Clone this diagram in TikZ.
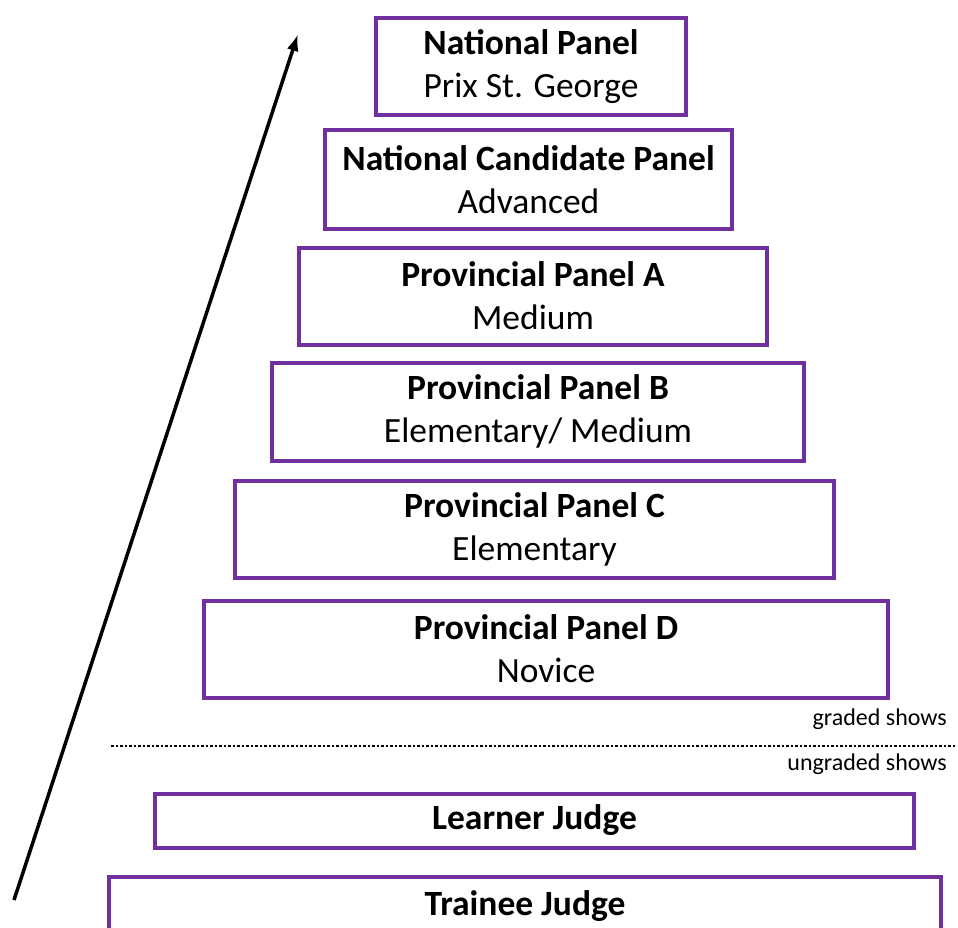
\documentclass[tikz,border=0pt]{standalone}
\usepackage{fontspec}
\setmainfont{Carlito}
\usetikzlibrary{arrows.meta}
\definecolor{panelpurple}{HTML}{7030A0}
\tikzset{panel/.style={draw=panelpurple, line width=4pt, align=center,
        inner sep=0pt, font=\fontsize{35.5}{43}\selectfont},
    showlabel/.style={anchor=east, inner sep=0pt, font=\fontsize{24}{28}\selectfont}
}

\begin{document}
\begin{tikzpicture}[x=1pt,y=-1pt]
      \useasboundingbox (0,0) rectangle (958,928);
      \node[panel, minimum width=310pt, minimum height=97pt] (NP) at (531,67) {\textbf{National Panel}\\Prix St. George};
      \node[panel, minimum width=407pt, minimum height=98pt] (NCP) at (528.5,179.5) {\textbf{National Candidate Panel}\\Advanced};
      \node[panel, minimum width=468pt, minimum height=97pt] (PPA) at (533,296) {\textbf{Provincial Panel A}\\Medium};
      \node[panel, minimum width=532pt, minimum height=98pt] (PPB) at (538,411.5) {\textbf{Provincial Panel B}\\Elementary/ Medium};
      \node[panel, minimum width=599pt, minimum height=97pt] (PPC) at (534.5,529) {\textbf{Provincial Panel C}\\Elementary};
      \node[panel, minimum width=684pt, minimum height=97pt] (PPD) at (546,649) {\textbf{Provincial Panel D}\\Novice};

      \node[showlabel] (GS) at (947,719) {graded shows};
      \draw[dotted, line width=2.5pt] (111,746) -- (955,746);
      \node[showlabel] (US) at (947,764) {ungraded shows};

      \node[panel, minimum width=759pt, minimum height=54pt] (LJ) at (534.5,820.5) {\textbf{Learner Judge}};
      \node[panel, minimum width=832pt, minimum height=58pt] (TJ) at (525,906) {\textbf{Trainee Judge}};

      \coordinate (A0) at (14,900);
      \coordinate (A1) at (298,34);
      \draw[-{Latex[length=17pt,width=12pt]}, line width=3.5pt] (A0) -- (A1);
    \end{tikzpicture}
\end{document}
